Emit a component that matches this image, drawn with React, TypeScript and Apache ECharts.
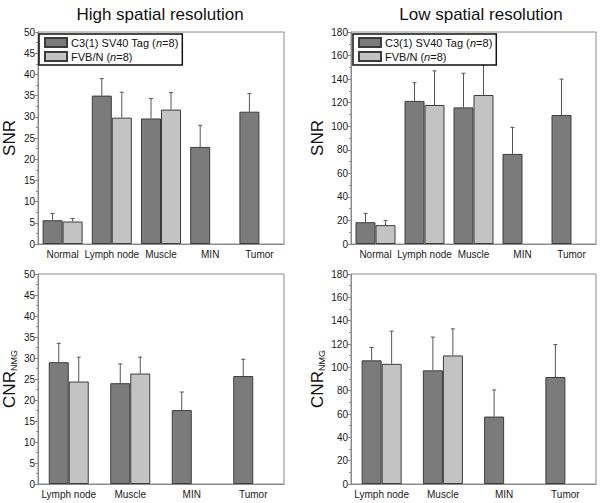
import React, { useEffect, useRef } from "react";
import * as echarts from "echarts";

// ---- Data ----
const topCategories = ["Normal", "Lymph node", "Muscle", "MIN", "Tumor"];
const bottomCategories = ["Lymph node", "Muscle", "MIN", "Tumor"];

// High spatial resolution, SNR
const highSnrTag = [5.6, 35.0, 29.6, 22.9, 31.2];
const highSnrTagErr = [7.2, 39.0, 34.3, 28.0, 35.5];
const highSnrFvb = [5.3, 29.8, 31.7, null, null];
const highSnrFvbErr = [6.0, 35.8, 35.7, null, null];

// Low spatial resolution, SNR
const lowSnrTag = [18.5, 121.5, 116, 76.5, 109.5];
const lowSnrTagErr = [26, 137, 145, 99, 140];
const lowSnrFvb = [16, 118, 126.5, null, null];
const lowSnrFvbErr = [20, 147, 152, null, null];

// High spatial resolution, CNR_NMG
const highCnrTag = [29.0, 24.0, 17.6, 25.7];
const highCnrTagErr = [33.5, 28.6, 21.9, 29.7];
const highCnrFvb = [24.4, 26.3, null, null];
const highCnrFvbErr = [30.2, 30.2, null, null];

// Low spatial resolution, CNR_NMG
const lowCnrTag = [106, 97.4, 57.8, 91.7];
const lowCnrTagErr = [117, 125.9, 80.6, 119.5];
const lowCnrFvb = [103, 110.2, null, null];
const lowCnrFvbErr = [131, 133, null, null];

const seriesNames = ["C3(1) SV40 Tag (n=8)", "FVB/N (n=8)"];

const FONT = 'Arial, "Liberation Sans", Helvetica, sans-serif';
const DARK = "#7b7b7b";
const LIGHT = "#c3c3c3";
const BORDER = "#3c3c3c";
const AXIS = "#8a8a8a";
const BAR_W = 20;

export default function App() {
  const ref = useRef<HTMLDivElement>(null);
  useEffect(() => {
    if (!ref.current) return;
    const chart = echarts.init(ref.current, undefined, { renderer: "svg" });

    const panels = [
      { cats: topCategories, tag: highSnrTag, tagE: highSnrTagErr, fvb: highSnrFvb, fvbE: highSnrFvbErr, max: 50, interval: 5, name: "SNR" },
      { cats: topCategories, tag: lowSnrTag, tagE: lowSnrTagErr, fvb: lowSnrFvb, fvbE: lowSnrFvbErr, max: 180, interval: 20, name: "SNR" },
      { cats: bottomCategories, tag: highCnrTag, tagE: highCnrTagErr, fvb: highCnrFvb, fvbE: highCnrFvbErr, max: 50, interval: 5, name: "{a|CNR}{b|NMG}" },
      { cats: bottomCategories, tag: lowCnrTag, tagE: lowCnrTagErr, fvb: lowCnrFvb, fvbE: lowCnrFvbErr, max: 180, interval: 20, name: "{a|CNR}{b|NMG}" },
    ];

    const grids = [
      { left: 37, top: 32, width: 247, height: 212 },
      { left: 351, top: 32, width: 245, height: 212 },
      { left: 37, top: 274, width: 247, height: 210 },
      { left: 351, top: 274, width: 245, height: 210 },
    ].map((g) => ({ ...g, show: true, borderColor: AXIS, borderWidth: 1, backgroundColor: "transparent" }));

    const xAxis = panels.map((p, i) => ({
      type: "category",
      gridIndex: i,
      data: p.cats,
      axisLine: { lineStyle: { color: AXIS, width: 1 } },
      axisTick: { alignWithLabel: true, length: 3, lineStyle: { color: AXIS } },
      axisLabel: { color: "#1a1a1a", fontSize: 10, fontFamily: FONT, margin: 5, interval: 0 },
    }));

    const yAxis = panels.map((p, i) => ({
      type: "value",
      gridIndex: i,
      min: 0,
      max: p.max,
      interval: p.interval,
      name: p.name,
      nameLocation: "middle",
      nameGap: i % 2 === 0 ? 20 : 25,
      nameTextStyle: {
        fontFamily: FONT,
        fontSize: 17,
        color: "#111",
        rich: {
          a: { fontFamily: FONT, fontSize: 17, color: "#111" },
          b: { fontFamily: FONT, fontSize: 9, color: "#111", verticalAlign: "bottom", padding: [8, 0, 0, 0] },
        },
      },
      splitLine: { show: false },
      axisLine: { show: true, lineStyle: { color: AXIS, width: 1 } },
      axisTick: { show: true, length: 3, lineStyle: { color: AXIS } },
      minorTick: { show: true, splitNumber: 2, length: 2, lineStyle: { color: AXIS } },
      axisLabel: { color: "#1a1a1a", fontSize: 10, fontFamily: FONT, margin: 3 },
    }));

    const errRender = (side: number) => (params: any, api: any) => {
      const idx = api.value(0);
      const v = api.value(1);
      const top = api.value(2);
      const p0 = api.coord([idx, v]);
      const p1 = api.coord([idx, top]);
      const x = p0[0] + side * (BAR_W / 2);
      const style = { stroke: "#555", lineWidth: 1 };
      return {
        type: "group",
        children: [
          { type: "line", shape: { x1: x, y1: p0[1], x2: x, y2: p1[1] }, style },
          { type: "line", shape: { x1: x - 2, y1: p1[1], x2: x + 2, y2: p1[1] }, style },
        ],
      };
    };

    const toErrData = (vals: (number | null)[], tops: (number | null)[]) =>
      vals
        .map((v, k) => (v == null || tops[k] == null ? null : [k, v, tops[k]]))
        .filter((d) => d != null);

    const series: any[] = [];
    panels.forEach((p, i) => {
      series.push({
        type: "bar",
        name: seriesNames[0],
        xAxisIndex: i,
        yAxisIndex: i,
        data: p.tag,
        barWidth: BAR_W,
        barGap: "0%",
        itemStyle: { color: DARK, borderColor: BORDER, borderWidth: 1 },
      });
      series.push({
        type: "bar",
        name: seriesNames[1],
        xAxisIndex: i,
        yAxisIndex: i,
        data: p.fvb,
        barWidth: BAR_W,
        barGap: "0%",
        itemStyle: { color: LIGHT, borderColor: BORDER, borderWidth: 1 },
      });
      series.push({
        type: "custom",
        name: "err-tag-" + i,
        xAxisIndex: i,
        yAxisIndex: i,
        data: toErrData(p.tag, p.tagE),
        renderItem: errRender(-1),
        z: 3,
        silent: true,
      });
      series.push({
        type: "custom",
        name: "err-fvb-" + i,
        xAxisIndex: i,
        yAxisIndex: i,
        data: toErrData(p.fvb, p.fvbE),
        renderItem: errRender(1),
        z: 3,
        silent: true,
      });
    });

    const legendFormatter = (name: string) =>
      name === seriesNames[0] ? "{r|C3(1) SV40 Tag (}{i|n}{r|=8)}" : "{r|FVB/N (}{i|n}{r|=8)}";

    const mkLegend = (left: number) => ({
      data: seriesNames,
      orient: "vertical",
      left,
      top: 34,
      backgroundColor: "#fff",
      borderColor: "#111",
      borderWidth: 1.5,
      padding: [3, 4, 3, 5],
      itemWidth: 22,
      itemHeight: 9,
      itemGap: 3,
      icon: "rect",
      selectedMode: false,
      formatter: legendFormatter,
      textStyle: {
        fontFamily: FONT,
        fontSize: 11,
        color: "#111",
        padding: [0, 0, 0, -1],
        rich: {
          r: { fontFamily: FONT, fontSize: 11, color: "#111" },
          i: { fontFamily: FONT, fontSize: 11, color: "#111", fontStyle: "italic" },
        },
      },
      z: 10,
    });

    chart.setOption({
      animation: false,
      backgroundColor: "#fff",
      title: [
        { text: "High spatial resolution", left: 155, top: 1, textAlign: "center", textStyle: { fontFamily: FONT, fontSize: 17, fontWeight: "normal", color: "#111" } },
        { text: "Low spatial resolution", left: 476, top: 1, textAlign: "center", textStyle: { fontFamily: FONT, fontSize: 17, fontWeight: "normal", color: "#111" } },
      ],
      legend: [mkLegend(39), mkLegend(353)],
      grid: grids,
      xAxis,
      yAxis,
      series,
    });

    return () => chart.dispose();
  }, []);

  return (
    <div
      ref={ref}
      style={{ position: "fixed", left: 0, top: 0, width: 600, height: 503, background: "#fff" }}
    />
  );
}
